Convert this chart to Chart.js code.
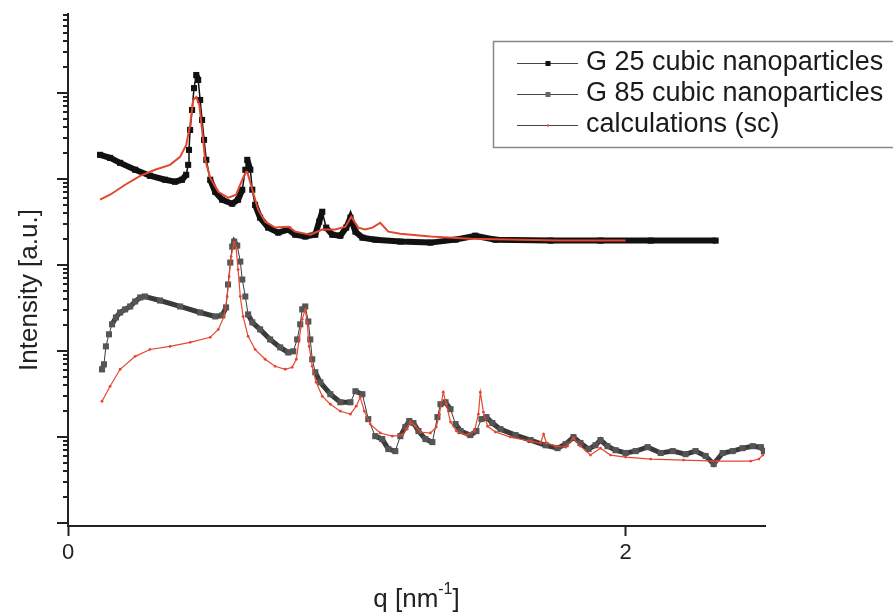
<!DOCTYPE html>
<html>
<head>
<meta charset="utf-8">
<title>SAXS G25 / G85</title>
<script src="https://cdn.jsdelivr.net/npm/chart.js@4.4.1/dist/chart.umd.min.js"></script>
<style>
  html, body { margin: 0; padding: 0; background: #fff; }
  #chart { display: block; }
</style>
</head>
<body>
<canvas id="chart" width="893" height="614"></canvas>
<script>
// q values [nm^-1] and intensities [a.u.]
const g25Q = [0.115, 0.151, 0.187, 0.241, 0.294, 0.348, 0.384, 0.409, 0.424, 0.431, 0.434, 0.438, 0.445, 0.452, 0.460, 0.467, 0.474, 0.481, 0.488, 0.496, 0.510, 0.528, 0.553, 0.589, 0.610, 0.625, 0.636, 0.643, 0.654, 0.661, 0.671, 0.689, 0.718, 0.754, 0.790, 0.815, 0.851, 0.887, 0.901, 0.912, 0.926, 0.948, 0.977, 0.998, 1.013, 1.031, 1.056, 1.102, 1.192, 1.300, 1.390, 1.461, 1.533, 1.731, 1.910, 2.090, 2.323];
const g25I = [1.91e4, 1.76e4, 1.54e4, 1.28e4, 1.09e4, 9.8e3, 9.3e3, 9.8e3, 1.12e4, 1.46e4, 2.18e4, 3.72e4, 6.35e4, 1.14e5, 1.62e5, 1.42e5, 8.3e4, 4.86e4, 2.85e4, 1.67e4, 9.8e3, 7.1e3, 5.74e3, 5.16e3, 5.74e3, 7.5e3, 1.28e4, 1.67e4, 1.28e4, 7.5e3, 5.0e3, 3.55e3, 2.72e3, 2.38e3, 2.58e3, 2.25e3, 2.14e3, 2.25e3, 3.19e3, 4.16e3, 2.72e3, 2.25e3, 2.19e3, 2.72e3, 3.55e3, 2.44e3, 2.08e3, 1.97e3, 1.87e3, 1.82e3, 1.97e3, 2.19e3, 1.97e3, 1.92e3, 1.92e3, 1.92e3, 1.92e3];

const calcTopQ = [0.115, 0.151, 0.205, 0.259, 0.312, 0.366, 0.402, 0.424, 0.438, 0.449, 0.460, 0.471, 0.481, 0.492, 0.510, 0.539, 0.575, 0.603, 0.625, 0.639, 0.643, 0.661, 0.682, 0.707, 0.743, 0.790, 0.815, 0.869, 0.912, 0.959, 0.995, 1.016, 1.041, 1.066, 1.092, 1.120, 1.149, 1.192, 1.300, 1.444, 1.623, 1.767, 1.910, 2.000];
const calcTopI = [5.74e3, 6.56e3, 8.57e3, 1.09e4, 1.28e4, 1.46e4, 1.81e4, 2.49e4, 4.26e4, 8.3e4, 9.0e4, 7.26e4, 3.72e4, 1.67e4, 1.03e4, 7.1e3, 6.05e3, 6.56e3, 9.8e3, 1.21e4, 1.21e4, 7.5e3, 4.4e3, 3.19e3, 2.72e3, 2.79e3, 2.44e3, 2.25e3, 2.58e3, 2.58e3, 2.79e3, 3.64e3, 2.72e3, 2.58e3, 2.72e3, 3.1e3, 2.44e3, 2.31e3, 2.14e3, 2.02e3, 1.97e3, 1.92e3, 1.92e3, 1.92e3];

const g85Q = [0.122, 0.129, 0.136, 0.147, 0.158, 0.172, 0.187, 0.205, 0.223, 0.241, 0.259, 0.276, 0.330, 0.402, 0.474, 0.528, 0.553, 0.567, 0.574, 0.582, 0.589, 0.596, 0.607, 0.618, 0.625, 0.636, 0.646, 0.661, 0.689, 0.725, 0.761, 0.790, 0.808, 0.822, 0.833, 0.840, 0.851, 0.862, 0.869, 0.876, 0.887, 0.905, 0.941, 0.977, 1.013, 1.031, 1.056, 1.077, 1.102, 1.127, 1.149, 1.174, 1.192, 1.210, 1.224, 1.239, 1.257, 1.282, 1.307, 1.325, 1.336, 1.354, 1.372, 1.390, 1.408, 1.443, 1.465, 1.483, 1.501, 1.522, 1.551, 1.605, 1.659, 1.713, 1.756, 1.785, 1.813, 1.838, 1.867, 1.892, 1.910, 1.935, 1.964, 2.000, 2.036, 2.079, 2.126, 2.169, 2.215, 2.251, 2.287, 2.316, 2.348, 2.384, 2.420, 2.456, 2.485, 2.496];
const g85I = [61, 70, 113, 156, 204, 245, 280, 304, 329, 376, 419, 430, 386, 329, 280, 252, 259, 321, 593, 1066, 1634, 1868, 1679, 1094, 677, 430, 266, 215, 178, 136, 110, 96, 99, 136, 204, 304, 329, 220, 136, 80, 56.5, 43.2, 31.4, 25.3, 25.3, 34, 31.4, 16.1, 10.2, 9.43, 7.22, 6.84, 10.2, 13.0, 15.3, 14.5, 11.7, 9.43, 8.7, 17.0, 24.0, 25.3, 21.0, 14.1, 11.7, 10.5, 11.7, 16.1, 17.0, 14.5, 12.3, 10.5, 9.2, 8.0, 7.4, 8.25, 9.95, 8.5, 7.22, 8.0, 9.2, 7.8, 7.0, 6.5, 6.84, 7.6, 6.5, 6.84, 6.3, 6.84, 6.0, 4.84, 6.5, 6.84, 7.4, 7.8, 7.6, 6.84];

const calcBotQ = [0.122, 0.151, 0.187, 0.241, 0.294, 0.366, 0.438, 0.510, 0.539, 0.560, 0.571, 0.578, 0.585, 0.596, 0.603, 0.610, 0.618, 0.628, 0.646, 0.671, 0.707, 0.743, 0.779, 0.804, 0.819, 0.829, 0.840, 0.851, 0.858, 0.865, 0.876, 0.890, 0.912, 0.941, 0.977, 1.013, 1.034, 1.048, 1.063, 1.084, 1.120, 1.163, 1.199, 1.214, 1.228, 1.246, 1.264, 1.300, 1.321, 1.332, 1.346, 1.357, 1.372, 1.393, 1.429, 1.458, 1.472, 1.479, 1.490, 1.505, 1.533, 1.587, 1.659, 1.695, 1.706, 1.716, 1.749, 1.785, 1.813, 1.838, 1.874, 1.910, 1.946, 2.000, 2.090, 2.208, 2.330, 2.449, 2.478, 2.492];
const calcBotI = [26.0, 38.8, 61.2, 86.5, 104, 113, 126, 144, 178, 252, 430, 733, 1251, 1820, 1592, 885, 430, 252, 148, 104, 80, 66.3, 61.2, 64.5, 80, 136, 233, 304, 215, 113, 66.3, 43.2, 29.7, 24.0, 19.9, 18.4, 22.8, 29.0, 19.9, 14.1, 11.1, 10.2, 10.5, 12.3, 14.9, 13.3, 11.4, 11.1, 13.0, 18.4, 33.1, 24.0, 14.9, 11.7, 10.5, 11.7, 18.4, 33.1, 19.4, 13.3, 11.4, 9.95, 8.94, 8.5, 10.8, 8.5, 7.8, 7.6, 9.7, 7.8, 6.15, 7.4, 6.15, 5.83, 5.53, 5.38, 5.24, 5.24, 5.53, 6.15];

const xTicks = [0, 2];
const legendLabels = ['G 25 cubic nanoparticles', 'G 85 cubic nanoparticles', 'calculations (sc)'];

const FONT = "'Liberation Sans', Arial, Helvetica, sans-serif";
const RED = '#e4472f';

function points(qs, is) {
    return qs.map((q, i) => ({ x: q, y: is[i] }));
}

// dense marker runs look like a thick band, steep peak flanks stay thin
function bandWidth(thick, thin, slope) {
    return ctx => {
        const dx = Math.abs(ctx.p1.x - ctx.p0.x);
        const dy = Math.abs(ctx.p1.y - ctx.p0.y);
        return dy < slope * dx + 4 ? thick : thin;
    };
}

// minor/major log ticks, axis titles and the framed legend
const decorPlugin = {
    id: 'decor',
    afterDraw(chart) {
        const ctx = chart.ctx;
        const y = chart.scales.y;
        const area = chart.chartArea;
        ctx.save();
        ctx.strokeStyle = '#222';
        ctx.lineWidth = 2;
        for (let d = -1; d <= 6; d++) {
            for (let k = 1; k <= 9; k++) {
                const v = k * Math.pow(10, d);
                if (v < y.min || v > y.max) continue;
                const py = Math.round(y.getPixelForValue(v));
                const len = k === 1 ? 11 : 5;
                ctx.beginPath();
                ctx.moveTo(area.left - len, py);
                ctx.lineTo(area.left, py);
                ctx.stroke();
            }
        }

        ctx.fillStyle = '#222';
        ctx.font = '26px ' + FONT;
        // y title
        ctx.save();
        ctx.translate(30, 290);
        ctx.rotate(-Math.PI / 2);
        ctx.textAlign = 'center';
        ctx.textBaseline = 'middle';
        ctx.fillText('Intensity [a.u.]', 0, 0);
        ctx.restore();

        // x title with superscript
        const a = 'q [nm', sup = '-1', b = ']';
        ctx.font = '26px ' + FONT;
        const wa = ctx.measureText(a).width, wb = ctx.measureText(b).width;
        ctx.font = '16px ' + FONT;
        const ws = ctx.measureText(sup).width;
        let x0 = (area.left + area.right) / 2 - (wa + ws + wb) / 2;
        ctx.textAlign = 'left';
        ctx.textBaseline = 'alphabetic';
        ctx.font = '26px ' + FONT;
        ctx.fillText(a, x0, 607);
        ctx.font = '16px ' + FONT;
        ctx.fillText(sup, x0 + wa, 594);
        ctx.font = '26px ' + FONT;
        ctx.fillText(b, x0 + wa + ws, 607);

        // legend
        ctx.strokeStyle = '#888';
        ctx.lineWidth = 1.5;
        ctx.strokeRect(493.5, 41.5, 420, 106);
        const rows = [63, 94, 125];
        const marks = [
            { color: '#111', size: 5, shape: 'rect' },
            { color: '#666', size: 5, shape: 'rect' },
            { color: RED, size: 2.5, shape: 'dot' }
        ];
        legendLabels.forEach((label, i) => {
            const ly = rows[i];
            ctx.strokeStyle = '#444';
            ctx.lineWidth = 1;
            ctx.beginPath();
            ctx.moveTo(517, ly + 0.5);
            ctx.lineTo(578, ly + 0.5);
            ctx.stroke();
            const m = marks[i];
            ctx.fillStyle = m.color;
            if (m.shape === 'rect') {
                ctx.fillRect(548 - m.size / 2, ly + 0.5 - m.size / 2, m.size, m.size);
            } else {
                ctx.beginPath();
                ctx.arc(548, ly + 0.5, m.size / 2, 0, Math.PI * 2);
                ctx.fill();
            }
            ctx.fillStyle = '#1a1a1a';
            ctx.font = '27px ' + FONT;
            ctx.textBaseline = 'middle';
            ctx.fillText(label, 586, ly);
        });
        ctx.restore();
    }
};

new Chart(document.getElementById('chart').getContext('2d'), {
    type: 'line',
    data: {
        datasets: [
            {
                label: legendLabels[2],
                data: points(calcTopQ, calcTopI),
                borderColor: RED,
                borderWidth: 2,
                pointRadius: 0,
                order: 0
            },
            {
                label: legendLabels[2],
                data: points(calcBotQ, calcBotI),
                borderColor: RED,
                borderWidth: 1.2,
                pointRadius: 1.4,
                pointBorderWidth: 0,
                pointBackgroundColor: RED,
                order: 0
            },
            {
                label: legendLabels[0],
                data: points(g25Q, g25I),
                borderColor: '#111',
                borderWidth: 6,
                segment: { borderWidth: bandWidth(6, 1.5, 3) },
                pointStyle: 'rect',
                pointRadius: 4.3,
                pointBorderWidth: 0,
                pointBackgroundColor: '#111',
                order: 1
            },
            {
                label: legendLabels[1],
                data: points(g85Q, g85I),
                borderColor: '#3a3a3a',
                borderWidth: 5,
                segment: { borderWidth: bandWidth(5, 1, 1.3) },
                pointStyle: 'rect',
                pointRadius: 4.3,
                pointBorderWidth: 0,
                pointBackgroundColor: '#555',
                order: 1
            }
        ]
    },
    options: {
        responsive: false,
        animation: false,
        devicePixelRatio: 1,
        layout: { padding: { top: 14, right: 128, left: 0, bottom: 0 } },
        plugins: {
            legend: { display: false },
            tooltip: { enabled: false }
        },
        elements: { line: { tension: 0 } },
        scales: {
            x: {
                type: 'linear',
                min: 0,
                max: 2.5,
                afterFit: scale => { scale.height = 88; },
                afterBuildTicks: scale => { scale.ticks = xTicks.map(v => ({ value: v })); },
                grid: {
                    drawOnChartArea: false,
                    drawTicks: true,
                    tickLength: 10,
                    tickWidth: 2,
                    tickColor: '#222'
                },
                border: { display: true, color: '#222', width: 2 },
                ticks: {
                    color: '#222',
                    font: { family: FONT, size: 22 },
                    padding: 4,
                    maxRotation: 0,
                    autoSkip: false
                }
            },
            y: {
                type: 'logarithmic',
                min: 0.92,
                max: 8.3e5,
                afterFit: scale => { scale.width = 68; },
                grid: { display: false },
                border: { display: true, color: '#222', width: 2 },
                ticks: { display: false }
            }
        }
    },
    plugins: [decorPlugin]
});
</script>
</body>
</html>
